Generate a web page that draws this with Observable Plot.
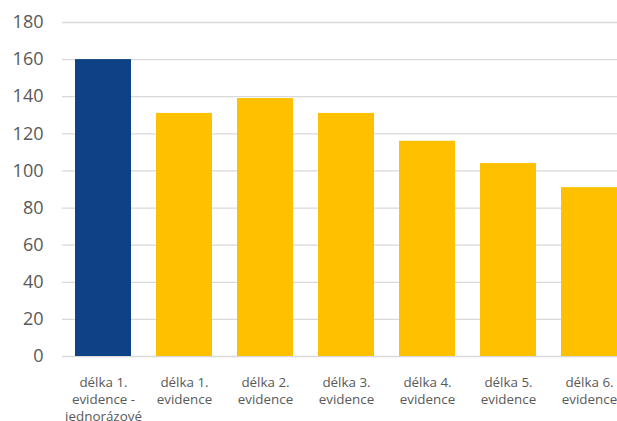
<!DOCTYPE html>
<html>
<head>
<meta charset="utf-8">
<script src="https://cdn.jsdelivr.net/npm/d3@7"></script>
<script src="https://cdn.jsdelivr.net/npm/@observablehq/plot@0.6"></script>
<style>
  html, body { margin: 0; padding: 0; background: #fff; overflow: hidden; }
  #chart { width: 617px; height: 421px; overflow: hidden; }
  #chart svg { display: block; max-width: none !important; }
</style>
</head>
<body>
<div id="chart"></div>
<script>
const categories = [
  "délka 1.\nevidence -\njednorázové",
  "délka 1.\nevidence",
  "délka 2.\nevidence",
  "délka 3.\nevidence",
  "délka 4.\nevidence",
  "délka 5.\nevidence",
  "délka 6.\nevidence"
];
const values = [160, 131, 139, 131, 116, 104, 91];
const groups = ["one-time", "regular", "regular", "regular", "regular", "regular", "regular"];
const yTicks = [0, 20, 40, 60, 80, 100, 120, 140, 160, 180];

const data = categories.map((c, i) => ({ cat: c, value: values[i], group: groups[i] }));

const chart = Plot.plot({
  width: 650,
  height: 421,
  marginLeft: 62,
  marginRight: 20,
  marginTop: 22,
  marginBottom: 65,
  style: { fontFamily: "'Open Sans', sans-serif", background: "#fff", maxWidth: "none" },
  x: { domain: categories, paddingInner: 0.31, paddingOuter: 0.155, axis: null },
  y: { domain: [0, 180], axis: null },
  color: { domain: ["one-time", "regular"], range: ["#0E4287", "#FFC000"] },
  marks: [
    Plot.ruleY(yTicks, { stroke: "#d9d9d9", strokeWidth: 1.3 }),
    Plot.barY(data, { x: "cat", y: "value", fill: "group" }),
    Plot.text(yTicks, {
      y: d => d, frameAnchor: "left", dx: -19, textAnchor: "end",
      text: d => String(d), fontSize: 18, fill: "#595959"
    }),
    Plot.text(data, {
      x: "cat", y: 0, text: "cat", dy: 19, lineAnchor: "top",
      lineHeight: 1.25, fontSize: 13.4, fill: "#595959"
    })
  ]
});
document.getElementById("chart").appendChild(chart);
</script>
</body>
</html>
